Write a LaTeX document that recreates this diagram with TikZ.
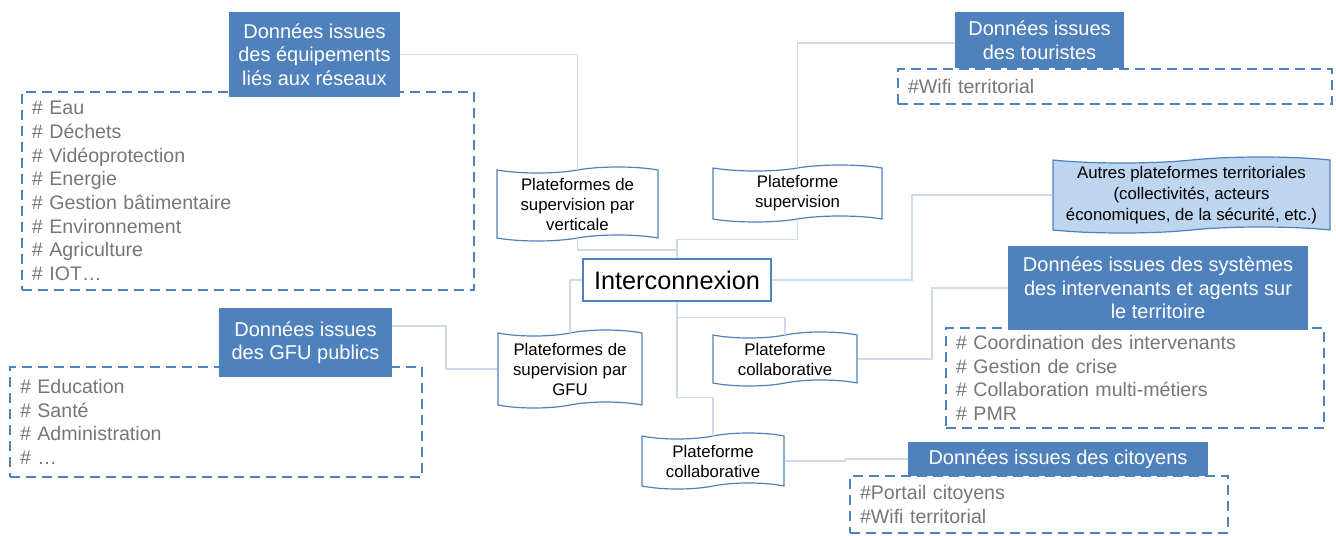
\documentclass[tikz,border=0pt]{standalone}
\usepackage{fontspec}
\setmainfont{Liberation Sans}
\usetikzlibrary{shapes.symbols}
\definecolor{headblue}{RGB}{79,129,189}
\definecolor{itemgray}{RGB}{118,118,118}
\definecolor{linkgray}{RGB}{205,218,235}
\definecolor{paleblue}{RGB}{189,213,238}

\begin{document}
\begin{tikzpicture}
  [x=0.5pt,y=-0.5pt,
   head/.style={rectangle,fill=headblue,text=white,align=center,inner sep=0pt,font=\fontsize{10}{11.75}\selectfont},
   list/.style={rectangle,draw=headblue,line width=1pt,dash pattern=on 5pt off 3pt,align=left,inner xsep=5pt,inner ysep=0pt,text=itemgray,font=\fontsize{9.8}{11.85}\selectfont},
   plat/.style={tape,draw=headblue,line width=0.6pt,fill=white,align=center,inner sep=0pt,tape bend height=3pt,font=\fontsize{8.4}{10}\selectfont},
   link/.style={draw=linkgray,line width=0.6pt}]
  \useasboundingbox (0,0) rectangle (1336,535);

  % listes en pointille
  \node[list,text width=216pt,minimum width=226pt,minimum height=99pt] (eqList) at (248,191)
    {\# Eau\\\# Déchets\\\# Vidéoprotection\\\# Energie\\\# Gestion bâtimentaire\\\# Environnement\\\# Agriculture\\\# IOT…};
  \node[list,text width=207pt,minimum width=217pt,minimum height=17.5pt] (touList) at (1115,86.5) {\#Wifi territorial};
  \node[list,text width=196pt,minimum width=206pt,minimum height=55pt] (gfuList) at (216,422)
    {\# Education\\\# Santé\\\# Administration\\\# …};
  \node[list,text width=179pt,minimum width=189pt,minimum height=50pt] (sysList) at (1135,378)
    {\# Coordination des intervenants\\\# Gestion de crise\\\# Collaboration multi-métiers\\\# PMR};
  \node[list,text width=179pt,minimum width=189pt,minimum height=28.5pt] (citList) at (1039,504.5)
    {\#Portail citoyens\\\#Wifi territorial};

  % titres
  \node[head,minimum width=85.5pt,minimum height=42.5pt] (eqHead) at (314.5,54.5) {Données issues\\des équipements\\liés aux réseaux};
  \node[head,minimum width=84.5pt,minimum height=28pt] (touHead) at (1039.5,40) {Données issues\\des touristes};
  \node[head,minimum width=86.5pt,minimum height=34.5pt] (gfuHead) at (305.5,342.5) {Données issues\\des GFU publics};
  \node[head,minimum width=150pt,minimum height=42pt] (sysHead) at (1158,288) {Données issues des systèmes\\des intervenants et agents sur\\le territoire};
  \node[head,minimum width=150pt,minimum height=17pt] (citHead) at (1058,459) {Données issues des citoyens};

  % plateformes
  \node[plat,minimum width=80.5pt,minimum height=37pt] (supVert) at (577.5,204) {Plateformes de\\supervision par\\verticale};
  \node[plat,minimum width=84.5pt,minimum height=28.5pt] (supPlat) at (797.5,193.5) {Plateforme\\supervision};
  \node[plat,minimum width=72pt,minimum height=39pt] (supGfu) at (570,369) {Plateformes de\\supervision par\\GFU};
  \node[plat,minimum width=72pt,minimum height=27pt] (collab) at (785,359) {Plateforme\\collaborative};
  \node[plat,minimum width=71pt,minimum height=28pt] (collabB) at (713,461) {Plateforme\\collaborative};
  \node[plat,fill=paleblue,minimum width=138.5pt,minimum height=38pt,font=\fontsize{8.4}{10.5}\selectfont] (autres) at (1191.5,195)
    {Autres plateformes territoriales\\(collectivités, acteurs\\économiques, de la sécurité, etc.)};
  \node[rectangle,draw=headblue,line width=0.8pt,minimum width=94pt,minimum height=21pt,font=\fontsize{12.65}{14}\selectfont] (interco) at (677,280) {Interconnexion};

  % liaisons
  \draw[link] (eqHead.east) -| (supVert.north);
  \draw[link] (supVert.south) |- (interco.north |- 0,250) -- (interco.north);
  \draw[link] (interco.north) -- ++(0,-19) -| (supPlat.south);
  \draw[link] (supPlat.north) |- (touHead.west |- 0,43);
  \draw[link] (interco.east) -| (912,195) -- (autres.west);
  \draw[link] (interco.west) -| (supGfu.north);
  \draw[link] (supGfu.west) -| (446,326) -- (gfuHead.east |- 0,326);
  \draw[link] (interco.south) -- ++(0,16) -| (collab.north);
  \draw[link] (interco.south) -- ++(0,96) -| (collabB.north);
  \draw[link] (collab.east) -| (932,288) -- (sysHead.west);
  \draw[link] (collabB.east) -- ++(61,0) |- (citHead.west);
\end{tikzpicture}
\end{document}
